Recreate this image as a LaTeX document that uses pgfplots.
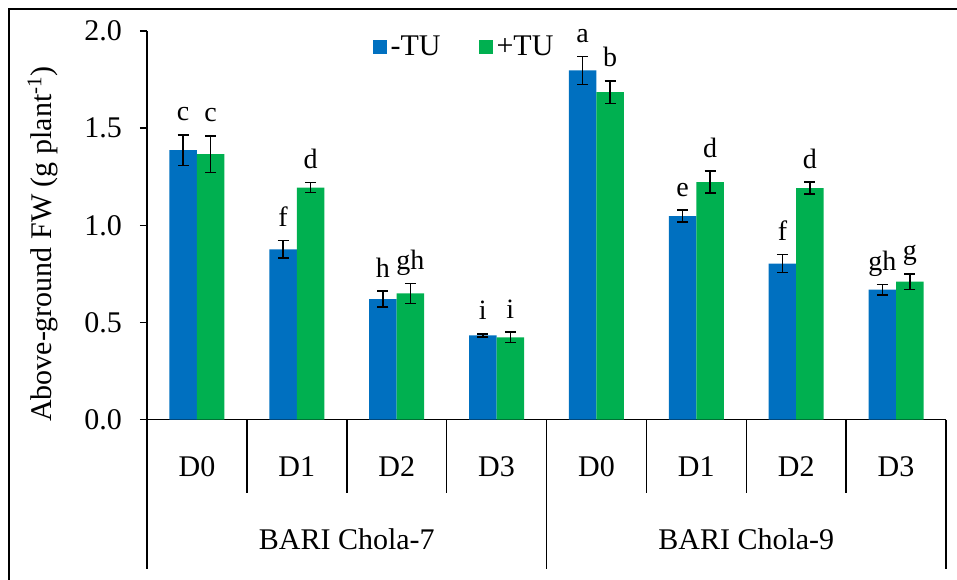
\documentclass[border=0pt]{standalone}
\usepackage{fontspec}
\setmainfont{Liberation Serif}
\usepackage{pgfplots}
\usepackage{pgfplotstable}
\pgfplotsset{compat=1.18}
\definecolor{cblue}{HTML}{0070C0}
\definecolor{cgreen}{HTML}{00B050}

\pgfplotstableread{
x y err lab
0 1.387 0.078 c
1 0.877 0.045 f
2 0.620 0.041 h
3 0.434 0.008 i
4 1.798 0.072 a
5 1.048 0.031 e
6 0.803 0.046 f
7 0.669 0.027 gh
}\tblue

\pgfplotstableread{
x y err lab
0 1.367 0.094 c
1 1.194 0.026 d
2 0.650 0.051 gh
3 0.424 0.027 i
4 1.685 0.059 b
5 1.223 0.056 d
6 1.192 0.030 d
7 0.710 0.040 g
}\tgreen

\begin{document}
\begin{tikzpicture}
\begin{axis}[
  scale only axis, width=399.5pt, height=194.35pt,
  xmin=-0.5, xmax=7.5, ymin=0, ymax=2,
  axis x line*=bottom, axis y line*=left,
  clip=false,
  ybar=0pt, bar width=0.275,
  xtick=\empty,
  ytick={0,0.5,1,1.5,2},
  yticklabel style={/pgf/number format/fixed, /pgf/number format/fixed zerofill, /pgf/number format/precision=1, /pgf/number format/assume math mode=true, font=\fontsize{15}{15}\selectfont, xshift=-5.5pt},
  tick align=outside, major tick length=3.5pt,
  axis line style={line width=0.75pt},
  major tick style={line width=0.75pt, black},
  ylabel={Above-ground FW (g plant\textsuperscript{-1})},
  ylabel style={font=\fontsize{15}{15}\selectfont, at={([xshift=-52pt]rel axis cs:0,0.452)}, anchor=center},
  legend columns=2,
  legend style={at={(rel axis cs:0.398,0.959)}, anchor=center, draw=none, fill=none,
    font=\fontsize{15}{15}\selectfont,
    /tikz/every even column/.append style={column sep=17pt}},
  legend image code/.code={\fill[#1,draw=none] (0pt,-3.5pt) rectangle (7pt,3.5pt);},
  nodes near coords,
  point meta=explicit symbolic,
  every node near coord/.append style={font=\fontsize{14}{14}\selectfont, black, anchor=base, yshift={\err*97.175pt+7pt}},
  visualization depends on={\thisrow{err}\as\err},
  error bars/y dir=both, error bars/y explicit,
  error bars/error bar style={line width=0.75pt, black},
  error bars/error mark options={rotate=90, mark size=2.75pt, line width=0.75pt, black},
]
\addplot[bar shift=-0.1375, fill=cblue, draw=none] table[x=x, y=y, y error=err, meta=lab] {\tblue};
\addlegendentry{-TU}
\addplot[bar shift=0.1375, fill=cgreen, draw=none] table[x=x, y=y, y error=err, meta=lab] {\tgreen};
\addlegendentry{+TU}

\pgfplotsinvokeforeach{0.5,1.5,2.5,4.5,5.5,6.5}{\draw[line width=0.75pt] (axis cs:#1,0) -- ++(0pt,-36.65pt);}
\pgfplotsinvokeforeach{-0.5,3.5,7.5}{\draw[line width=0.75pt] (axis cs:#1,0) -- ++(0pt,-74.65pt);}
\node[anchor=base, font=\fontsize{15}{15}\selectfont] at ([yshift=-28.15pt]axis cs:0,0) {D0};
\node[anchor=base, font=\fontsize{15}{15}\selectfont] at ([yshift=-28.15pt]axis cs:1,0) {D1};
\node[anchor=base, font=\fontsize{15}{15}\selectfont] at ([yshift=-28.15pt]axis cs:2,0) {D2};
\node[anchor=base, font=\fontsize{15}{15}\selectfont] at ([yshift=-28.15pt]axis cs:3,0) {D3};
\node[anchor=base, font=\fontsize{15}{15}\selectfont] at ([yshift=-28.15pt]axis cs:4,0) {D0};
\node[anchor=base, font=\fontsize{15}{15}\selectfont] at ([yshift=-28.15pt]axis cs:5,0) {D1};
\node[anchor=base, font=\fontsize{15}{15}\selectfont] at ([yshift=-28.15pt]axis cs:6,0) {D2};
\node[anchor=base, font=\fontsize{15}{15}\selectfont] at ([yshift=-28.15pt]axis cs:7,0) {D3};
\node[anchor=base, font=\fontsize{15}{15}\selectfont] at ([yshift=-64.8pt]axis cs:1.5,0) {BARI Chola-7};
\node[anchor=base, font=\fontsize{15}{15}\selectfont] at ([yshift=-64.8pt]axis cs:5.5,0) {BARI Chola-9};
\coordinate (O) at (rel axis cs:0,0);
\end{axis}
\pgfresetboundingbox
\useasboundingbox ([xshift=-73.5pt,yshift=-79.65pt]O) rectangle ([xshift=405pt,yshift=209.85pt]O);
\draw[line width=1pt] ([xshift=-69pt,yshift=-80pt]O) -- ([xshift=-69pt,yshift=205.35pt]O) -- ([xshift=406pt,yshift=205.35pt]O);
\end{tikzpicture}
\end{document}
